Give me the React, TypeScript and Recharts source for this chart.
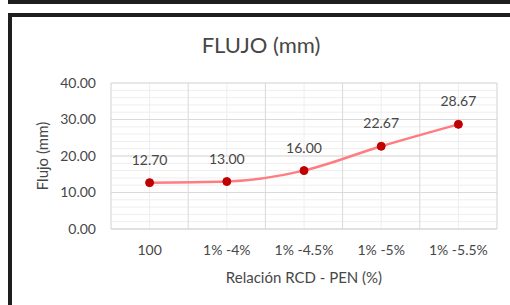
import { LineChart, Line, XAxis, YAxis, CartesianGrid, LabelList } from 'recharts'

const categories = ['100', '1% -4%', '1% -4.5%', '1% -5%', '1% -5.5%']
const flujo = [12.7, 13.0, 16.0, 22.67, 28.67]
const yTicks = [0, 10, 20, 30, 40]

const data = categories.map((name, i) => ({ name, flujo: flujo[i] }))

const font = 'Lato, "Open Sans", sans-serif'
const ink = '#474747'

// minor grid: horizontal every 2 units, vertical at category centres (default)
const minorRows = ({ offset }: any) =>
  Array.from({ length: 21 }, (_, i) => offset.top + (i * offset.height) / 20)

// major grid: vertical lines between categories
const majorCols = ({ offset }: any) =>
  Array.from({ length: categories.length + 1 }, (_, i) => offset.left + (i * offset.width) / categories.length)

export default function App() {
  return (
    <div
      style={{
        position: 'absolute',
        left: 0,
        top: 0,
        width: 510,
        height: 305,
        background: '#fff',
        overflow: 'hidden',
        fontFamily: font,
      }}
    >
      {/* bottom of the box above */}
      <div
        style={{
          position: 'absolute',
          left: 8,
          top: -6,
          width: 600,
          height: 10,
          boxSizing: 'border-box',
          borderLeft: '4px solid #1e1e1e',
          borderBottom: '4px solid #1e1e1e',
        }}
      />
      {/* chart frame */}
      <div
        style={{
          position: 'absolute',
          left: 8,
          top: 13,
          width: 600,
          height: 400,
          boxSizing: 'border-box',
          border: '4px solid #1e1e1e',
        }}
      />
      <div
        style={{
          position: 'absolute',
          left: 0,
          top: 31,
          width: 522,
          textAlign: 'center',
          fontSize: 22,
          lineHeight: '28px',
          color: ink,
        }}
      >
        FLUJO (mm)
      </div>
      <div style={{ position: 'absolute', left: 0, top: 0 }}>
        <LineChart width={510} height={305} data={data} margin={{ top: 83, right: 13, bottom: 46, left: 51 }}>
          <CartesianGrid stroke="#eeeeee" horizontalCoordinatesGenerator={minorRows} />
          <CartesianGrid stroke="#d9d9d9" verticalCoordinatesGenerator={majorCols} />
          <XAxis
            dataKey="name"
            scale="band"
            interval={0}
            height={30}
            axisLine={{ stroke: '#d9d9d9' }}
            tickLine={false}
            tickMargin={10}
            tick={{ fill: ink, fontSize: 14, fontFamily: font }}
            label={{
              value: 'Relación RCD - PEN (%)',
              position: 'bottom',
              offset: 13,
              style: { fill: ink, fontSize: 15, fontFamily: font },
            }}
          />
          <YAxis
            domain={[0, 40]}
            ticks={yTicks}
            width={60}
            axisLine={false}
            tickLine={false}
            tickMargin={9}
            tickFormatter={(v: number) => v.toFixed(2)}
            tick={{ fill: ink, fontSize: 14, fontFamily: font }}
            label={{
              value: 'Flujo (mm)',
              angle: -90,
              position: 'insideLeft',
              offset: -8,
              style: { textAnchor: 'middle', fill: ink, fontSize: 15, fontFamily: font },
            }}
          />
          <Line
            type="monotone"
            dataKey="flujo"
            stroke="#ff7c80"
            strokeWidth={2.5}
            dot={{ r: 4, fill: '#c00000', stroke: '#c00000', strokeWidth: 1 }}
            activeDot={false}
            isAnimationActive={false}
          >
            <LabelList
              dataKey="flujo"
              position="top"
              offset={18}
              formatter={(v: any) => Number(v).toFixed(2)}
              style={{ fill: ink, fontSize: 14, fontFamily: font }}
            />
          </Line>
        </LineChart>
      </div>
    </div>
  )
}
